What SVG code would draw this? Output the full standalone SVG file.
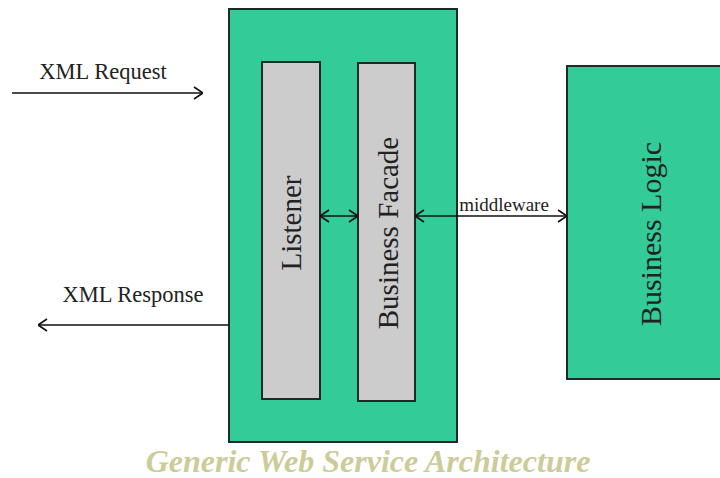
<svg xmlns="http://www.w3.org/2000/svg" width="720" height="478" viewBox="0 0 720 478">
<defs>
<style>
.green{fill:#33cb98;stroke:#1f2a26;stroke-width:2}
.grey{fill:#cccccc;stroke:#1f2a26;stroke-width:2}
.lbl{font-family:"Liberation Serif","Times New Roman",serif;fill:#222}
.big{font-size:29px}
.line{stroke:#111;stroke-width:1.6;fill:none}
.title{font-family:"Liberation Serif","Times New Roman",serif;font-weight:bold;font-style:italic;font-size:32px;fill:#cccc99}
</style>
<marker id="ah" viewBox="0 0 10 14" refX="10" refY="7" markerWidth="10" markerHeight="14" markerUnits="userSpaceOnUse" orient="auto-start-reverse">
<path d="M1,1 L10,7 L1,13" fill="none" stroke="#111" stroke-width="1.6"/>
</marker>
</defs>
<rect width="720" height="478" fill="#ffffff"/>
<g id="service">
<rect class="green" x="229" y="9" width="228" height="433"/>
</g>
<g id="listener">
<rect class="grey" x="262" y="62" width="58" height="337"/>
<text class="lbl big" transform="translate(301,223) rotate(-90)" text-anchor="middle">Listener</text>
</g>
<g id="facade">
<rect class="grey" x="358" y="63" width="57" height="338"/>
<text class="lbl big" transform="translate(398,233) rotate(-90)" text-anchor="middle">Business Facade</text>
</g>
<g id="logic">
<rect class="green" x="567" y="66" width="160" height="313"/>
<text class="lbl" style="font-size:30px" transform="translate(661,234) rotate(-90)" text-anchor="middle">Business Logic</text>
</g>
<g id="connectors">
<line class="line" x1="12" y1="93" x2="203" y2="93" marker-end="url(#ah)"/>
<text class="lbl" x="103" y="79" font-size="22.5" text-anchor="middle">XML Request</text>
<line class="line" x1="229" y1="325" x2="38" y2="325" marker-end="url(#ah)"/>
<text class="lbl" x="133" y="302" font-size="22.5" text-anchor="middle">XML Response</text>
<line class="line" x1="320" y1="216" x2="358" y2="216" marker-start="url(#ah)" marker-end="url(#ah)"/>
<line class="line" x1="415" y1="216" x2="567" y2="216" marker-start="url(#ah)" marker-end="url(#ah)"/>
<text class="lbl" x="504" y="211" font-size="19" text-anchor="middle">middleware</text>
</g>
<text class="title" x="368" y="472" text-anchor="middle">Generic Web Service Architecture</text>
</svg>
